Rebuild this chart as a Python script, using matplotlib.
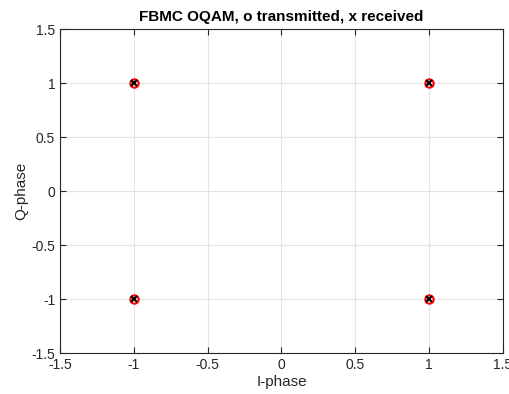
import matplotlib.pyplot as plt

# transmitted and received OQAM constellation points
tx_i = [1, -1, -1, 1]
tx_q = [1, 1, -1, -1]
rx_i = [1.0, -1.0, -1.0, 1.0]
rx_q = [1.0, 1.0, -1.0, -1.0]
ticks = [-1.5, -1, -0.5, 0, 0.5, 1, 1.5]
tick_labels = ['-1.5', '-1', '-0.5', '0', '0.5', '1', '1.5']

plt.rcParams['font.family'] = ['Liberation Sans', 'DejaVu Sans']

fig = plt.figure(figsize=(5.09, 3.94), dpi=100)
ax = fig.add_axes([0.118, 0.104, 0.870, 0.822])

ax.plot(tx_i, tx_q, 'o', color='red', markersize=6, markerfacecolor='none', markeredgewidth=1.5)
ax.plot(rx_i, rx_q, 'x', color='black', markersize=5, markeredgewidth=1.5)

ax.set_xlim(-1.5, 1.5)
ax.set_ylim(-1.5, 1.5)
ax.set_xticks(ticks)
ax.set_xticklabels(tick_labels)
ax.set_yticks(ticks)
ax.set_yticklabels(tick_labels)
ax.grid(True, color='#e3e3e3', linewidth=0.8)
ax.set_axisbelow(True)
ax.tick_params(direction='in', length=4, colors='#262626', labelsize=10, top=True, right=True,
               labeltop=False, labelright=False)
for s in ax.spines.values():
    s.set_color('#262626')
    s.set_linewidth(0.8)

ax.set_xlabel('I-phase', fontsize=11, color='#262626', labelpad=2)
ax.set_ylabel('Q-phase', fontsize=11, color='#262626', labelpad=2)
ax.set_title('FBMC OQAM, o transmitted, x received', fontsize=11, fontweight='bold', pad=6)

fig.savefig('out.png', dpi=100)
